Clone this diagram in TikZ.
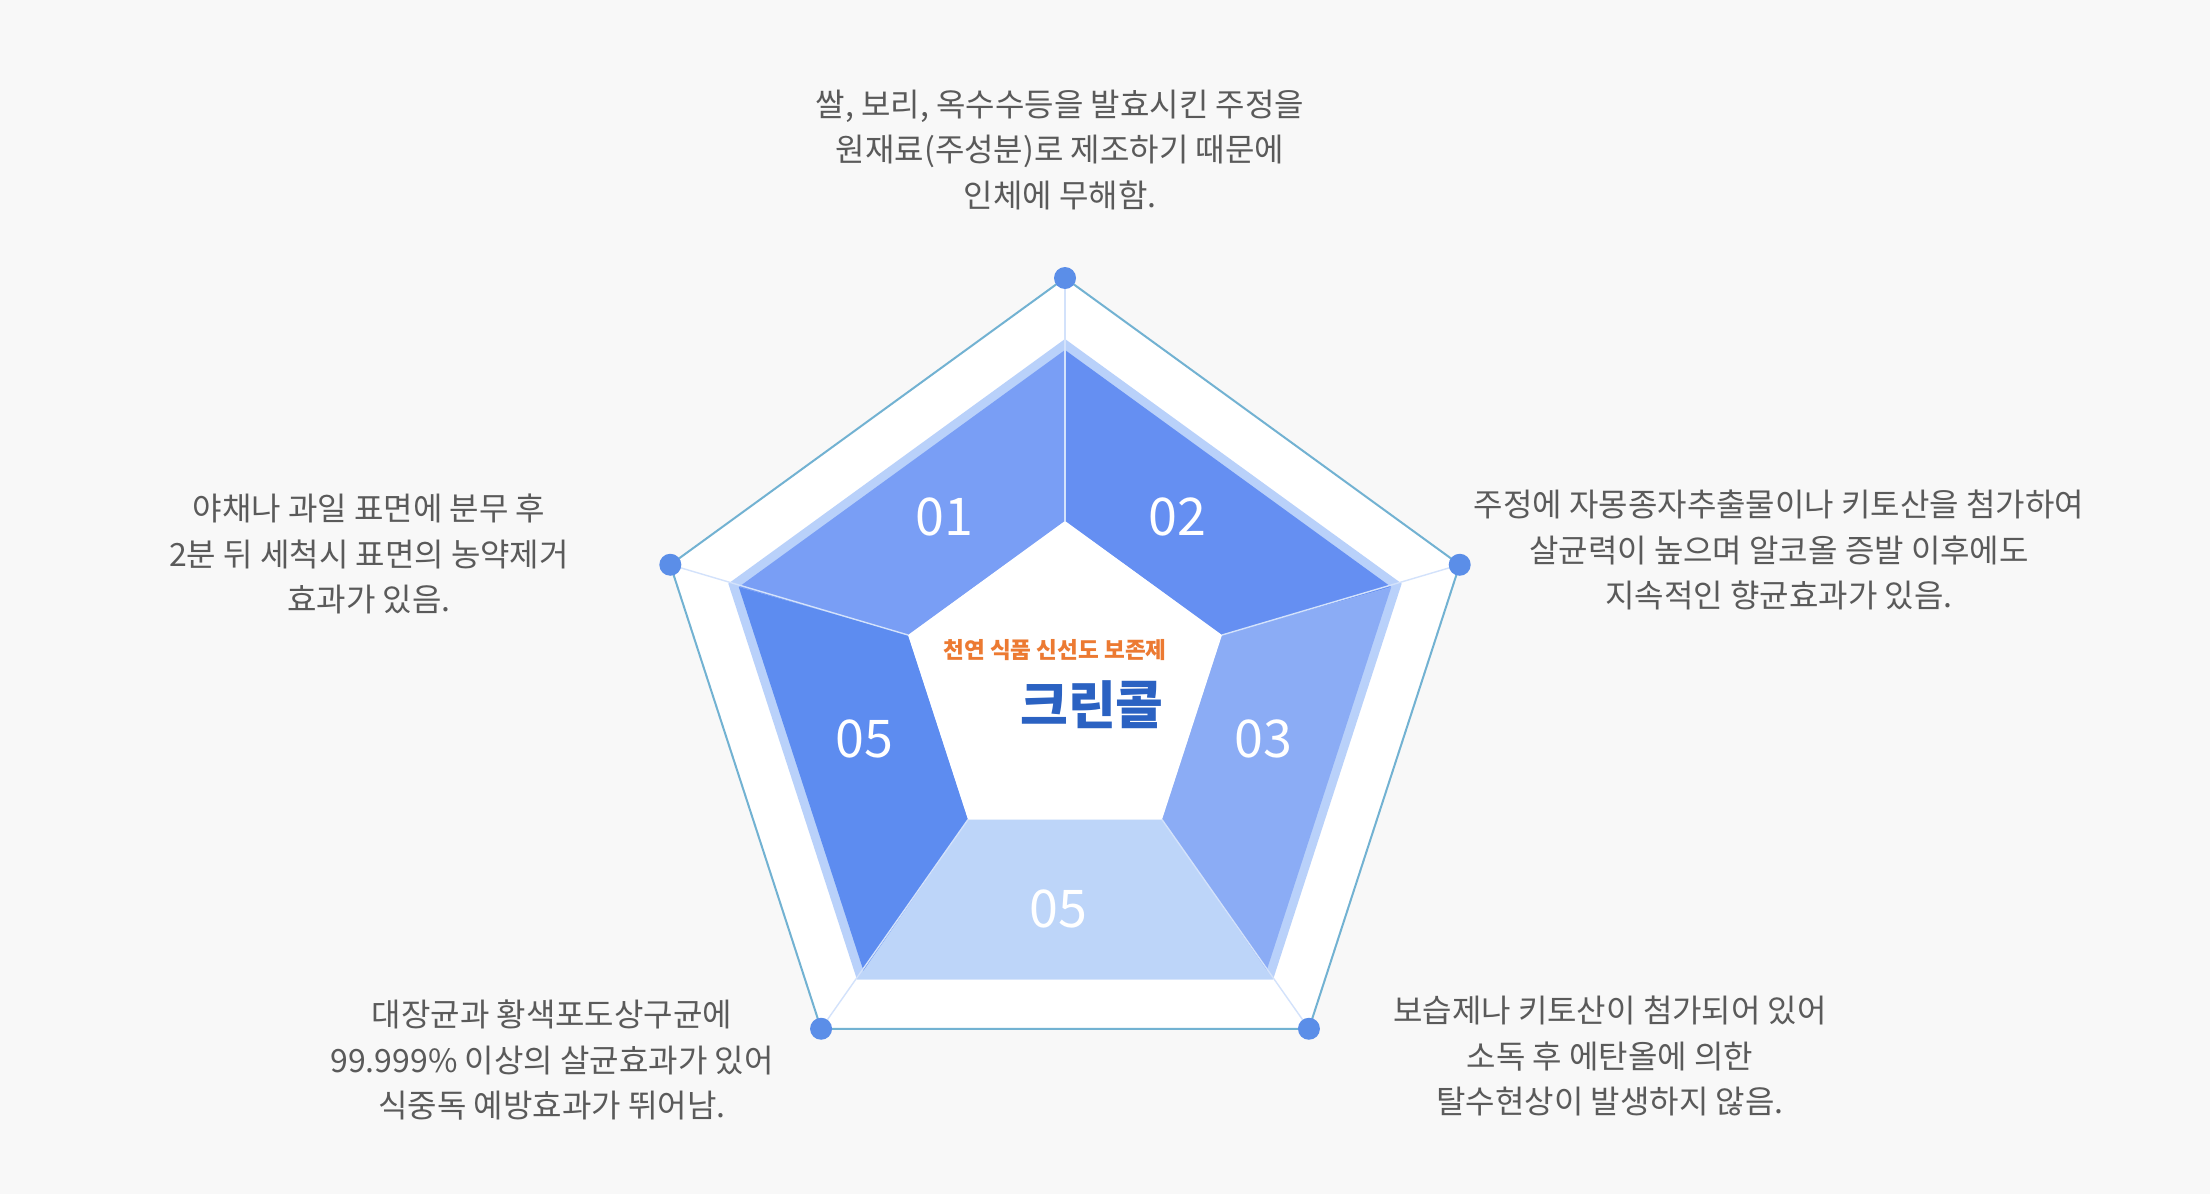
\documentclass[tikz,border=0pt]{standalone}
\usepackage{fontspec}
\setmainfont{Noto Sans CJK KR}
\definecolor{bgc}{HTML}{F8F8F8}
\definecolor{linec}{HTML}{72B2D2}
\definecolor{dotc}{HTML}{5B8EE8}
\definecolor{rimc}{HTML}{B9D1FA}
\definecolor{sA}{HTML}{799EF5}
\definecolor{sB}{HTML}{658FF2}
\definecolor{sC}{HTML}{8BACF5}
\definecolor{sD}{HTML}{BDD5F9}
\definecolor{sE}{HTML}{5D8CF0}
\definecolor{spokec}{HTML}{D3E2FB}
\definecolor{txtc}{HTML}{5A5A5A}
\definecolor{orangec}{HTML}{EC7A32}
\definecolor{brandc}{HTML}{2B62C2}
\tikzset{
  desc/.style={text=txtc, align=center, font=\fontsize{16}{22.9}\selectfont, inner sep=0pt},
  numlbl/.style={text=white, font=\fontsize{26}{30}\selectfont, inner sep=0pt},
  vdot/.style={circle, fill=dotc, minimum size=11pt, inner sep=0pt},
  spoke/.style={draw=spokec, line width=0.7pt}
}
\begin{document}
\begin{tikzpicture}[x=0.5pt,y=-0.5pt]
\useasboundingbox (0,0) rectangle (2210,1194);
\fill[bgc] (0,0) rectangle (2210,1194);
\foreach \k/\a in {0/-90,1/-18,2/54,3/126,4/198} {
  \coordinate (O\k) at ([shift={(1065,693)}]\a:415);
  \coordinate (L\k) at ([shift={(1065,693)}]\a:354);
  \coordinate (B\k) at ([shift={(1065,693)}]\a:343);
  \coordinate (I\k) at ([shift={(1065,686)}]\a:165);
}
% outer pentagon
\filldraw[fill=white, draw=linec, line width=1pt] (O0)--(O1)--(O2)--(O3)--(O4)--cycle;
% light rim
\fill[rimc] (L0)--(L1)--(L2)--(L3)--(L4)--cycle;
% sectors
\fill[sA] (B4)--(B0)--(I0)--(I4)--cycle;
\fill[sB] (B0)--(B1)--(I1)--(I0)--cycle;
\fill[sC] (B1)--(B2)--(I2)--(I1)--cycle;
\fill[sD] (L2)--(L3)--(B3)--(I3)--(I2)--(B2)--cycle;
\fill[sE] (B3)--(B4)--(I4)--(I3)--cycle;
% inner white pentagon
\fill[white] (I0)--(I1)--(I2)--(I3)--(I4)--cycle;
% spokes
\foreach \k in {0,...,4} { \draw[spoke] (I\k)--(O\k); }
% vertex dots
\foreach \k in {0,...,4} { \node[vdot] (D\k) at (O\k) {}; }
% sector numbers
\node[numlbl] (n01) at (944,517) {01};
\node[numlbl] (n02) at (1177,517) {02};
\node[numlbl] (n03) at (1263,739) {03};
\node[numlbl] (n05a) at (864,739) {05};
\node[numlbl] (n05b) at (1058,909) {05};
% centre
\node[text=orangec, font=\bfseries\fontsize{11.3}{14}\selectfont, inner sep=0pt] (sub) at (1055,650) {천연 식품 신선도 보존제};
\node[text=brandc, font=\bfseries\fontsize{26}{30}\selectfont, inner sep=0pt] (brand) at (1092,705) {크린콜};
% descriptions
\node[desc] (t0) at (1060,150) {쌀, 보리, 옥수수등을 발효시킨 주정을\\원재료(주성분)로 제조하기 때문에\\인체에 무해함.};
\node[desc] (t1) at (1779,550) {주정에 자몽종자추출물이나 키토산을 첨가하여\\살균력이 높으며 알코올 증발 이후에도\\지속적인 향균효과가 있음.};
\node[desc] (t4) at (369,554) {야채나 과일 표면에 분무 후\\2분 뒤 세척시 표면의 농약제거\\효과가 있음.};
\node[desc] (t2) at (1610,1056) {보습제나 키토산이 첨가되어 있어\\소독 후 에탄올에 의한\\탈수현상이 발생하지 않음.};
\node[desc] (t3) at (552,1060) {대장균과 황색포도상구균에\\99.999\% 이상의 살균효과가 있어\\식중독 예방효과가 뛰어남.};
\end{tikzpicture}
\end{document}
